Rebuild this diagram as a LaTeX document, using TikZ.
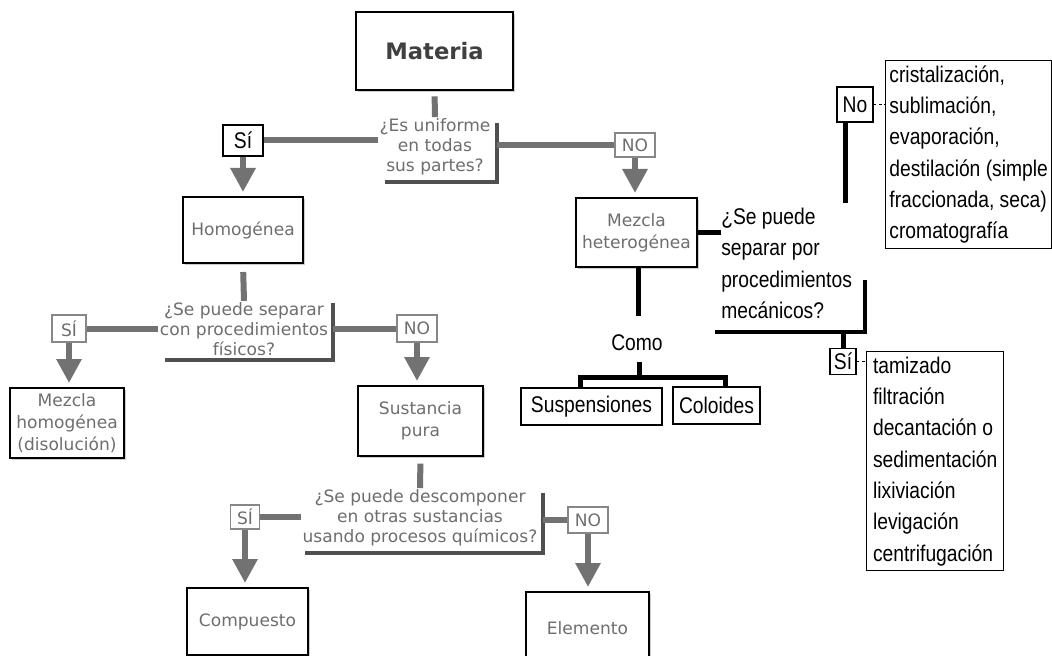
\documentclass[tikz,border=0pt]{standalone}
\usepackage{fontspec}
\setmainfont{DejaVu Sans}
\newfontfamily\ariN[FakeStretch=0.85]{Liberation Sans}
\usetikzlibrary{arrows.meta,shadows}
\definecolor{gtext}{HTML}{6E6E6E}
\definecolor{gline}{HTML}{727272}
\definecolor{gdark}{HTML}{505050}
\newcommand\grayfnt{\fontsize{12.8}{15}\selectfont}
\newcommand\grayfntb{\fontsize{12.8}{16.5}\selectfont}
\newcommand\blkfnt{\ariN\fontsize{17}{23.5}\selectfont}
\tikzset{
 wh/.style 2 args={minimum width=#1*0.75pt, minimum height=#2*0.75pt},
 gbox/.style={draw=black, line width=1.5pt, fill=white, inner sep=0pt, align=center, text=gtext, font=\grayfntb,
   drop shadow={shadow xshift=1.5pt, shadow yshift=-1.5pt, opacity=0.2, fill=black}},
 gq/.style={text=gtext, font=\grayfnt, align=center, inner sep=1pt},
 glab/.style={draw=gline!85, line width=1.2pt, fill=white, text=gtext, font=\grayfnt, inner sep=0pt},
 blab/.style={draw=black, line width=1.2pt, fill=white, text=black, font=\blkfnt, inner sep=0pt},
 btext/.style={text=black, font=\blkfnt, align=left, inner sep=0pt},
 bbox/.style={draw=black, line width=1pt, fill=white, text=black, font=\blkfnt, align=left, inner sep=0pt},
 gconn/.style={draw=gline, line width=4.5pt},
 gbr/.style={draw=gdark, line width=2.5pt},
 garr/.style={draw=gline, line width=5pt, -{Triangle[width=18pt,length=18pt]}, shorten >=3pt},
 bconn/.style={draw=black, line width=3.75pt},
 bbr/.style={draw=black, line width=3pt},
 dconn/.style={draw=black, line width=0.8pt, dash pattern=on 2pt off 2pt},
}
\begin{document}
\begin{tikzpicture}[x=0.75pt,y=-0.75pt]
\fill[white] (0,0) rectangle (1052,656);
\useasboundingbox (0,0) rectangle (1052,656);

% ---------- gray part ----------
\node[gbox, wh={157}{78}, font=\bfseries\fontsize{17}{20}\selectfont, text=black!75] (materia) at (434.5,51) {Materia};
\node[gq] (q1) at (435,147) {¿Es uniforme\\en todas\\sus partes?};
\node[blab, wh={40}{31}] (si1) at (243,140.5) {Sí};
\node[glab, wh={40}{24}] (no1) at (635,145) {NO};
\node[gbox, wh={120}{66}] (homog) at (243,230) {Homogénea};
\node[gbox, wh={121}{69}] (mhet) at (636.5,232.5) {Mezcla\\heterogénea};

\node[gq] (q2) at (244,329) {¿Se puede separar\\con procedimientos\\físicos?};
\node[glab, wh={34}{27}] (si2) at (69,328.5) {SÍ};
\node[glab, wh={40}{27}] (no2) at (417,328.5) {NO};
\node[gbox, wh={114}{70}] (mhom) at (67,423) {Mezcla\\homogénea\\(disolución)};
\node[gbox, wh={125}{70}] (spura) at (420.5,421) {Sustancia\\pura};

\node[gq] (q3) at (420,518) {¿Se puede descomponer\\en otras sustancias\\usando procesos químicos?};
\node[glab, wh={29}{24}] (si3) at (245,517) {SÍ};
\node[glab, wh={40}{26}] (no3) at (588,520) {NO};
\node[gbox, wh={121}{67}] (comp) at (247.5,621.5) {Compuesto};
\node[gbox, wh={123}{72}] (elem) at (587.5,628) {Elemento};

% gray connectors
\draw[gconn, shorten <=4pt] (materia.south) -- (q1.north);
\draw[gconn] (si1.east) -- (si1.east -| q1.west);
\coordinate (b1a) at (497,123);
\coordinate (b1b) at (497,182);
\coordinate (b1c) at (385,182);
\draw[gbr] (b1a) -- (b1b) -- (b1c);
\draw[gconn] (no1.west -| b1a) -- (no1.west);
\draw[garr] (si1.south) -- (si1.south |- homog.north);
\draw[garr] (no1.south) -- (no1.south |- mhet.north);

\draw[gconn, shorten <=6pt] (homog.south) -- (q2.north);
\draw[gconn] (si2.east) -- (si2.east -| q2.west);
\coordinate (b2a) at (333,303);
\coordinate (b2b) at (333,360);
\coordinate (b2c) at (165,360);
\draw[gbr] (b2a) -- (b2b) -- (b2c);
\draw[gconn] (no2.west -| b2a) -- (no2.west);
\draw[garr] (si2.south) -- (si2.south |- mhom.north);
\draw[garr] (no2.south) -- (no2.south |- spura.north);

\draw[gconn, shorten <=5pt] (spura.south) -- (q3.north);
\draw[gconn] (si3.east) -- (si3.east -| q3.west);
\coordinate (b3a) at (543,493);
\coordinate (b3b) at (543,553);
\coordinate (b3c) at (305,553);
\draw[gbr] (b3a) -- (b3b) -- (b3c);
\draw[gconn] (no3.west -| b3a) -- (no3.west);
\draw[garr] (si3.south) -- (si3.south |- comp.north);
\draw[garr] (no3.south) -- (no3.south |- elem.north);

% ---------- black part ----------
\node[btext, anchor=west] (q4) at (721,263.5) {¿Se puede\\separar por\\procedimientos\\mecánicos?};
\node[btext] (como) at (637,343) {Como};
\node[bbox, wh={141}{37}, align=center] (susp) at (591.5,406.5) {Suspensiones};
\node[bbox, wh={87}{37}, align=center] (colo) at (716.5,405.5) {Coloides};
\node[blab, wh={36}{35}] (no4) at (855,104.5) {No};
\node[blab, wh={26}{26}] (si4) at (843,361.5) {Sí};
\node[bbox, wh={166}{188}, anchor=north west] (list1) at (885,60)
 {cristalización,\\sublimación,\\evaporación,\\destilación (simple\\fraccionada, seca)\\cromatografía};
\node[bbox, wh={137}{219}, anchor=north west] (list2) at (866,351)
 {tamizado\\filtración\\decantación o\\sedimentación\\lixiviación\\levigación\\centrifugación};

\draw[bconn] (mhet.east) -- (mhet.east -| q4.west);
\coordinate (c1) at (638,316);
\draw[bconn] (mhet.south -| c1) -- (c1);
\coordinate (barL) at (580,377);
\coordinate (barM) at (639,377);
\coordinate (barR) at (725,377);
\draw[bconn, shorten <=8pt] (como.south -| barM) -- (barM);
\draw[bconn] (barL |- susp.north) -- (barL) -- (barR) -- (barR |- colo.north);

\coordinate (b4a) at (865,280);
\coordinate (b4b) at (865,332);
\coordinate (b4c) at (715,332);
\draw[bbr] (b4a) -- (b4b) -- (b4c);
\draw[bconn] (si4.north |- b4b) -- (si4.north);
\draw[dconn] (si4.east) -- (si4.east -| list2.west);

\coordinate (nst) at (845,203);
\draw[bconn] (nst |- no4.south) -- (nst);
\draw[dconn] (no4.east) -- (no4.east -| list1.west);
\end{tikzpicture}
\end{document}
